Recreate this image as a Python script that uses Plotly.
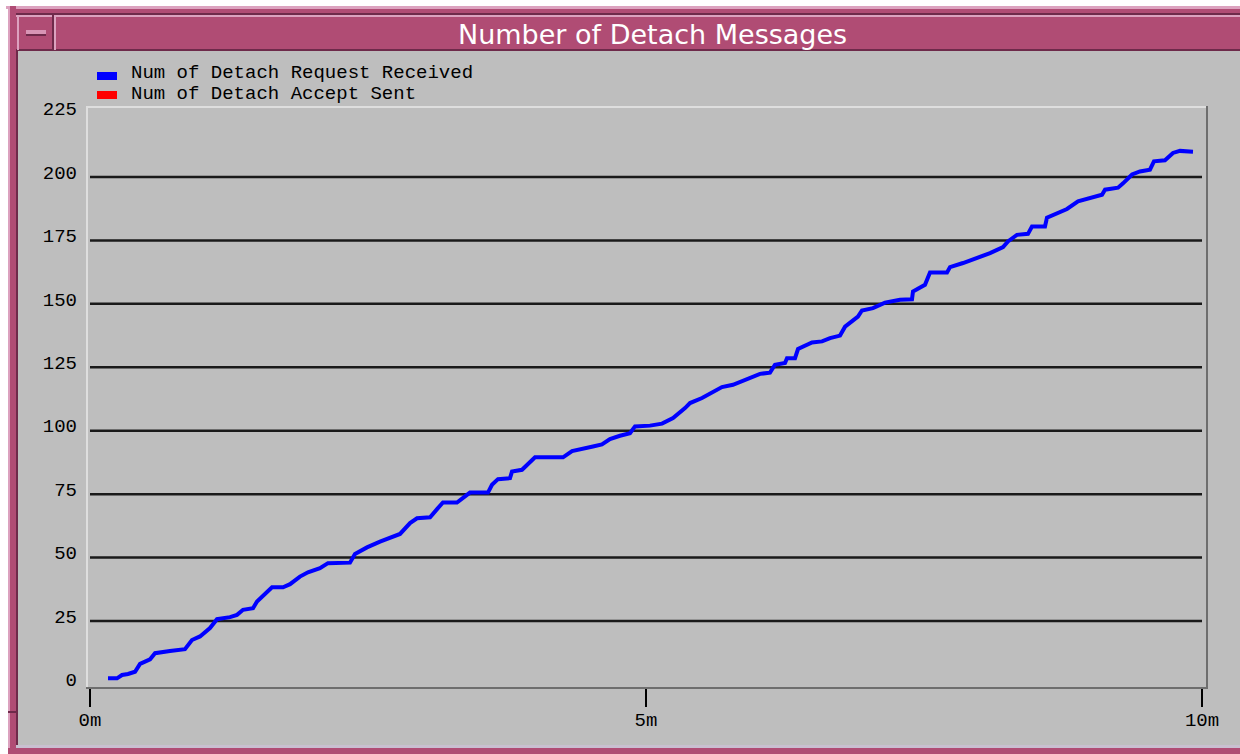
import plotly.graph_objects as go

# ---- data (time in minutes, count of messages) ----
time_min = [0.162, 0.243, 0.288, 0.342, 0.405, 0.450, 0.540, 0.585, 0.719, 0.854,
            0.917, 0.989, 1.079, 1.142, 1.259, 1.322, 1.376, 1.466, 1.502, 1.637,
            1.736, 1.799, 1.888, 1.960, 2.068, 2.140, 2.338, 2.383, 2.491, 2.608,
            2.788, 2.878, 2.941, 3.058, 3.121, 3.174, 3.300, 3.372, 3.417, 3.579,
            3.615, 3.669, 3.777, 3.795, 3.885, 4.002, 4.254, 4.335, 4.424, 4.523,
            4.604, 4.676, 4.766, 4.856, 4.901, 5.036, 5.144, 5.243, 5.351, 5.396,
            5.504, 5.576, 5.683, 5.782, 5.908, 6.025, 6.115, 6.160, 6.250, 6.268,
            6.340, 6.367, 6.493, 6.583, 6.655, 6.745, 6.790, 6.906, 6.942, 7.041,
            7.149, 7.284, 7.392, 7.401, 7.509, 7.554, 7.707, 7.734, 7.851, 7.977,
            8.094, 8.211, 8.255, 8.336, 8.435, 8.471, 8.588, 8.606, 8.705, 8.786,
            8.885, 8.993, 9.101, 9.128, 9.245, 9.290, 9.371, 9.442, 9.532, 9.568,
            9.667, 9.739, 9.802, 9.919]
detach_requests = [2.4, 2.4, 3.7, 4.1, 5.0, 8.1, 9.9, 12.3, 13.2, 13.9,
                   17.5, 18.9, 22.2, 25.7, 26.5, 27.4, 29.4, 30.0, 32.7, 38.3,
                   38.3, 39.5, 42.5, 44.2, 45.8, 47.8, 48.0, 51.4, 54.0, 56.3,
                   59.3, 63.6, 65.5, 65.9, 69.1, 71.7, 71.7, 74.3, 75.6, 75.6,
                   78.7, 80.9, 81.3, 83.9, 84.6, 89.5, 89.5, 92.0, 93.0, 93.8,
                   94.6, 96.7, 98.0, 99.0, 101.7, 102.0, 102.8, 105.0, 108.9, 110.9,
                   112.9, 114.5, 117.2, 118.1, 120.3, 122.4, 122.9, 126.0, 126.7, 128.6,
                   128.6, 132.2, 134.8, 135.2, 136.5, 137.5, 141.0, 145.0, 147.4, 148.3,
                   150.5, 151.6, 151.8, 154.9, 157.5, 162.4, 162.4, 164.5, 166.1, 168.1,
                   170.0, 172.4, 174.6, 177.2, 177.6, 180.5, 180.5, 184.0, 185.8, 187.4,
                   190.4, 191.8, 193.0, 195.0, 195.8, 197.5, 201.0, 202.2, 202.9, 206.2,
                   206.6, 209.5, 210.3, 210.0]

series_names = ["Num of Detach Request Received", "Num of Detach Accept Sent"]
series_colors = ["#0000ff", "#ff0000"]
y_ticks = [0, 25, 50, 75, 100, 125, 150, 175, 200, 225]
x_ticks = [0, 5, 10]
x_tick_text = ["0m", "5m", "10m"]
title_text = "Number of Detach Messages"

# ---- geometry ----
W, H = 1240, 754
L, R, T, B = 90, 1202, 107, 688


def px(x, y):
    return (x - L) / (R - L), (B - y) / (B - T)


shapes = []


def rect(x0, y0, x1, y1, color, layer="below"):
    a, b = px(x0, y0)
    c, d = px(x1, y1)
    shapes.append(dict(type="rect", xref="paper", yref="paper", x0=a, y0=d, x1=c, y1=b,
                       fillcolor=color, line=dict(width=0), layer=layer))


BG = "#bebebe"
PINK = "#b04c74"
LPINK = "#dca2bf"
DPINK = "#6e2a4a"

# window decoration
rect(0, 0, W, 6, "#ffffff")
rect(0, 0, 8, H, "#ffffff")
rect(6, 6, W, 9, LPINK)
rect(8, 9, W, 13, PINK)
rect(8, 13, W, 15, DPINK)
rect(8, 15, W, 17, LPINK)
rect(8, 17, W, 49, PINK)
rect(8, 49, W, 51, DPINK)
# left frame
rect(8, 6, 10, H, LPINK)
rect(10, 6, 16, H, PINK)
rect(16, 51, 18, 745, DPINK)
rect(8, 711, 18, 713, DPINK)
# bottom frame
rect(16, 745, W, 748, "#c9bfd0")
rect(8, 748, W, H, PINK)
# title button
rect(17, 15, 55, 17, LPINK)
rect(17, 15, 19, 50, LPINK)
rect(54, 15, 56, 50, LPINK)
rect(52, 15, 54, 50, DPINK)
rect(26, 30, 46, 36, "#d895b5")
rect(26, 34, 46, 36, DPINK)

# plot frame (sunken look)
rect(86, 106, 1208, 108, "#dedede", "above")
rect(86, 106, 88, 689, "#dedede", "above")
rect(1206, 106, 1208, 689, "#6e6e6e", "above")
rect(86, 687, 1208, 689, "#6e6e6e", "above")

# gridlines from tick values (inner ticks only)
for v in y_ticks[1:-1]:
    shapes.append(dict(type="line", xref="x", yref="y", x0=x_ticks[0], x1=x_ticks[-1],
                       y0=v, y1=v, line=dict(color="#1a1a1a", width=2.5), layer="below"))

# legend swatches
rect(97, 72, 117, 80, series_colors[0], "above")
rect(97, 91, 117, 99, series_colors[1], "above")

annotations = []
for i, name in enumerate(series_names):
    ax, ay = px(129, 73 + i * 21)
    annotations.append(dict(xref="paper", yref="paper", x=ax, y=ay, text=name,
                            showarrow=False, xanchor="left", yanchor="middle",
                            font=dict(family="Liberation Mono", size=19, color="#000000")))
tx, ty = px(652, 34)
annotations.append(dict(xref="paper", yref="paper", x=tx, y=ty, text=title_text,
                        showarrow=False, xanchor="center", yanchor="middle",
                        font=dict(family="DejaVu Sans", size=27, color="#ffffff")))

fig = go.Figure()
fig.add_trace(go.Scatter(x=time_min, y=detach_requests, mode="lines",
                         line=dict(color=series_colors[0], width=4),
                         name=series_names[0], showlegend=False))

fig.update_layout(
    width=W, height=H, autosize=False,
    margin=dict(l=L, r=W - R, t=T, b=H - B, pad=0),
    paper_bgcolor=BG, plot_bgcolor=BG,
    showlegend=False,
    shapes=shapes, annotations=annotations,
    xaxis=dict(range=[0, 10], tickvals=x_ticks, ticktext=x_tick_text,
               ticks="outside", ticklen=18, tickwidth=2, tickcolor="#000000",
               showgrid=False, zeroline=False, showline=False,
               ticklabelstandoff=-4,
               tickfont=dict(family="Liberation Mono", size=19, color="#000000")),
    yaxis=dict(range=[-1.42, 227.6], tickvals=y_ticks,
               ticks="", showgrid=False, zeroline=False, showline=False,
               ticklabelstandoff=12, ticklabelshift=-5,
               tickfont=dict(family="Liberation Mono", size=19, color="#000000")),
)

fig.write_html("out.html", config={"displayModeBar": False},
               post_script="document.body.style.margin='0';document.body.style.overflow='hidden';")
